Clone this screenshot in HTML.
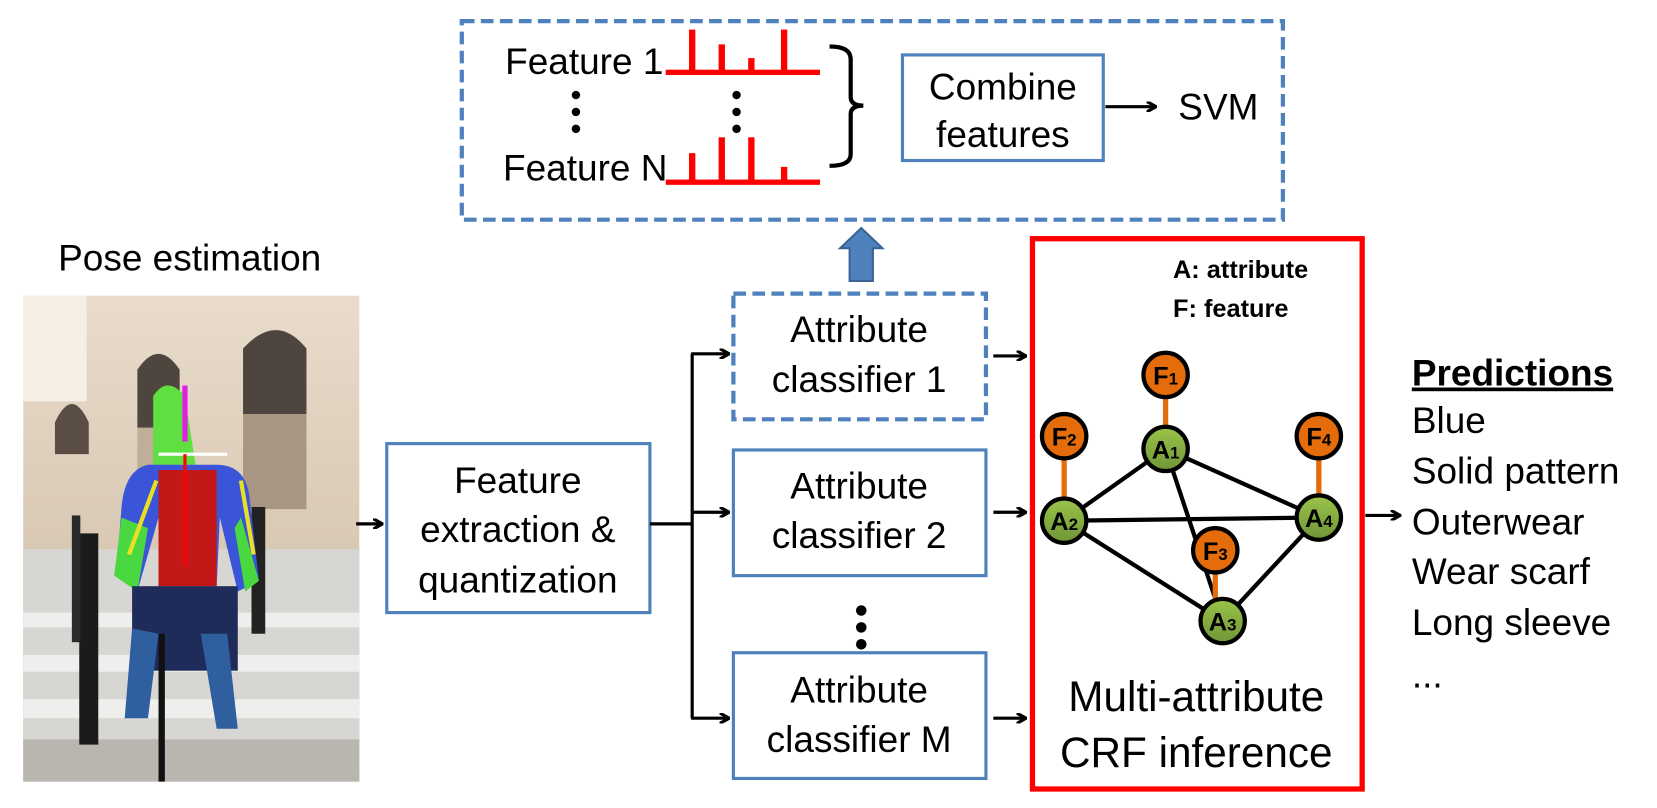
<!DOCTYPE html>
<html><head><meta charset="utf-8"><style>
body{margin:0;background:#fff;}
svg{display:block;}
text{font-family:"Liberation Sans",sans-serif;}
</style></head><body>
<svg width="1657" height="808" viewBox="0 0 1568 765" preserveAspectRatio="none" xmlns="http://www.w3.org/2000/svg">
<defs>
<marker id="ah" markerWidth="10" markerHeight="10" refX="8" refY="5" orient="auto" markerUnits="userSpaceOnUse">
<path d="M0,0 L9,5 L0,10" fill="none" stroke="#000" stroke-width="3"/>
</marker>
<linearGradient id="gn" x1="0" y1="0" x2="0" y2="1"><stop offset="0" stop-color="#9bc34a"/><stop offset="1" stop-color="#6f9636"/></linearGradient>
<linearGradient id="bld" x1="0" y1="0" x2="0" y2="1"><stop offset="0" stop-color="#e9dccb"/><stop offset="1" stop-color="#c9b79f"/></linearGradient>
</defs>

<rect x="437" y="20" width="777" height="188" fill="none" stroke="#4f81bd" stroke-width="4" stroke-dasharray="12,6"/>
<text x="478" y="70" font-size="35">Feature 1</text>
<text x="476" y="171" font-size="35">Feature N</text>
<g fill="#f00">
<rect x="630" y="66" width="146" height="5"/>
<rect x="652" y="28" width="6" height="40"/><rect x="680" y="42" width="6" height="26"/><rect x="708" y="55" width="6" height="13"/><rect x="739" y="28" width="6" height="40"/>
<rect x="630" y="170" width="146" height="5"/>
<rect x="652" y="145" width="6" height="27"/><rect x="680" y="130" width="6" height="42"/><rect x="708" y="130" width="6" height="42"/><rect x="739" y="158" width="6" height="14"/>
</g>
<g fill="#000">
<circle cx="545" cy="90" r="4"/><circle cx="545" cy="106" r="4"/><circle cx="545" cy="122" r="4"/>
<circle cx="697" cy="90" r="4"/><circle cx="697" cy="106" r="4"/><circle cx="697" cy="122" r="4"/>
</g>
<path d="M785,44 Q805,44 805,56 L805,92 Q805,100 817,100 Q805,100 805,108 L805,146 Q805,157 785,157" fill="none" stroke="#000" stroke-width="4"/>
<rect x="854" y="52" width="190" height="100" fill="none" stroke="#4f81bd" stroke-width="3"/>
<text x="949" y="94" font-size="35" text-anchor="middle">Combine</text>
<text x="949" y="139" font-size="35" text-anchor="middle">features</text>
<line x1="1046" y1="101" x2="1093" y2="101" stroke="#000" stroke-width="3" marker-end="url(#ah)"/>
<text x="1115" y="113" font-size="35">SVM</text>

<path d="M795,235 L815,216 L835,235 L826,235 L826,266 L804,266 L804,235 Z" fill="#4f81bd" stroke="#3a6496" stroke-width="2"/>

<text x="55" y="256" font-size="35">Pose estimation</text>
<g>
<rect x="22" y="280" width="318" height="460" fill="url(#bld)"/>
<rect x="22" y="280" width="60" height="100" fill="#f5efe6"/>
<path d="M52,400 Q68,365 84,400 L84,430 L52,430Z" fill="#5a4d45"/>
<path d="M130,350 Q150,320 170,350 L170,405 L130,405Z" fill="#4f453f"/>
<path d="M230,330 Q262,295 290,330 L290,392 L230,392Z" fill="#4f453f"/>
<rect x="130" y="405" width="40" height="80" fill="#bfae98"/>
<rect x="230" y="392" width="60" height="90" fill="#a99682"/>
<rect x="22" y="520" width="318" height="220" fill="#d8d6d2"/>
<g fill="#eeeeec"><rect x="22" y="580" width="318" height="14"/><rect x="22" y="620" width="318" height="16"/><rect x="22" y="662" width="318" height="18"/></g>
<rect x="22" y="700" width="318" height="40" fill="#b9b6b0"/>
<rect x="75" y="505" width="18" height="200" fill="#1b1b1b"/>
<rect x="238" y="480" width="13" height="120" fill="#222"/>
<rect x="68" y="488" width="8" height="120" fill="#2b2b2b"/>
<path d="M145,375 Q158,355 175,375 L185,440 L145,440Z" fill="#5fe040"/>
<path d="M140,440 Q118,445 115,480 L110,545 L130,560 L150,490 L150,555 L205,555 L208,490 L225,560 L245,550 L236,470 Q232,440 205,440Z" fill="#3b55d8"/>
<rect x="150" y="445" width="55" height="110" fill="#c41818"/>
<path d="M115,490 L108,545 L130,560 L140,500Z" fill="#4ad840"/>
<path d="M228,490 L245,550 L232,560 L222,500Z" fill="#4ad840"/>
<rect x="125" y="555" width="100" height="80" fill="#1f2c5a"/>
<path d="M125,595 L118,680 L140,680 L150,600Z M190,600 L205,690 L225,690 L215,600Z" fill="#2f5f9e"/>
<rect x="150" y="600" width="6" height="140" fill="#111"/>
<line x1="175" y1="365" x2="175" y2="418" stroke="#e020e0" stroke-width="5"/>
<line x1="150" y1="430" x2="215" y2="430" stroke="#fff" stroke-width="3"/>
<line x1="175" y1="430" x2="175" y2="535" stroke="#f00" stroke-width="3"/>
<line x1="148" y1="455" x2="122" y2="525" stroke="#e8e020" stroke-width="4"/>
<line x1="228" y1="455" x2="240" y2="525" stroke="#e8e020" stroke-width="4"/>
</g>

<line x1="337" y1="496" x2="361" y2="496" stroke="#000" stroke-width="3" marker-end="url(#ah)"/>
<rect x="366" y="420" width="249" height="160" fill="none" stroke="#4f81bd" stroke-width="3"/>
<text x="490" y="467" font-size="35" text-anchor="middle">Feature</text>
<text x="490" y="513" font-size="35" text-anchor="middle">extraction &amp;</text>
<text x="490" y="561" font-size="35" text-anchor="middle">quantization</text>
<line x1="615" y1="496" x2="655" y2="496" stroke="#000" stroke-width="3"/>
<line x1="655" y1="335" x2="655" y2="680" stroke="#000" stroke-width="3"/>
<line x1="654" y1="335" x2="689" y2="335" stroke="#000" stroke-width="3" marker-end="url(#ah)"/>
<line x1="654" y1="485" x2="689" y2="485" stroke="#000" stroke-width="3" marker-end="url(#ah)"/>
<line x1="654" y1="680" x2="689" y2="680" stroke="#000" stroke-width="3" marker-end="url(#ah)"/>

<rect x="694" y="278" width="239" height="119" fill="none" stroke="#4f81bd" stroke-width="4" stroke-dasharray="12,6"/>
<text x="813" y="324" font-size="35" text-anchor="middle">Attribute</text>
<text x="813" y="371" font-size="35" text-anchor="middle">classifier 1</text>
<rect x="694" y="426" width="239" height="119" fill="none" stroke="#4f81bd" stroke-width="3"/>
<text x="813" y="472" font-size="35" text-anchor="middle">Attribute</text>
<text x="813" y="519" font-size="35" text-anchor="middle">classifier 2</text>
<g fill="#000"><circle cx="815" cy="578" r="5"/><circle cx="815" cy="594" r="5"/><circle cx="815" cy="610" r="5"/></g>
<rect x="694" y="618" width="239" height="119" fill="none" stroke="#4f81bd" stroke-width="3"/>
<text x="813" y="665" font-size="35" text-anchor="middle">Attribute</text>
<text x="813" y="712" font-size="35" text-anchor="middle">classifier M</text>

<line x1="940" y1="337" x2="970" y2="337" stroke="#000" stroke-width="3" marker-end="url(#ah)"/>
<line x1="940" y1="485" x2="970" y2="485" stroke="#000" stroke-width="3" marker-end="url(#ah)"/>
<line x1="940" y1="680" x2="970" y2="680" stroke="#000" stroke-width="3" marker-end="url(#ah)"/>

<rect x="977" y="226" width="312" height="521" fill="none" stroke="#f00" stroke-width="5"/>
<text x="1110" y="263" font-size="24" font-weight="bold">A: attribute</text>
<text x="1110" y="300" font-size="24" font-weight="bold">F: feature</text>
<g stroke="#000" stroke-width="4">
<line x1="1103" y1="425" x2="1007" y2="493"/><line x1="1103" y1="425" x2="1248" y2="490"/>
<line x1="1103" y1="425" x2="1157" y2="588"/><line x1="1007" y1="493" x2="1248" y2="490"/>
<line x1="1007" y1="493" x2="1157" y2="588"/><line x1="1248" y1="490" x2="1157" y2="588"/>
</g>
<g stroke="#e46c0a" stroke-width="5">
<line x1="1103" y1="355" x2="1103" y2="425"/><line x1="1007" y1="413" x2="1007" y2="493"/>
<line x1="1248" y1="413" x2="1248" y2="490"/><line x1="1150" y1="520" x2="1150" y2="588"/>
</g>
<g stroke="#000" stroke-width="4">
<circle cx="1103" cy="355" r="21" fill="#e46c0a"/><circle cx="1007" cy="413" r="21" fill="#e46c0a"/>
<circle cx="1248" cy="413" r="21" fill="#e46c0a"/><circle cx="1150" cy="521" r="21" fill="#e46c0a"/>
<circle cx="1103" cy="425" r="21" fill="url(#gn)"/><circle cx="1007" cy="493" r="21" fill="url(#gn)"/>
<circle cx="1248" cy="490" r="21" fill="url(#gn)"/><circle cx="1157" cy="588" r="21" fill="url(#gn)"/>
</g>
<g font-weight="bold" font-size="24" text-anchor="middle" fill="#000">
<text x="1103" y="364">F<tspan font-size="16">1</tspan></text>
<text x="1007" y="422">F<tspan font-size="16">2</tspan></text>
<text x="1248" y="422">F<tspan font-size="16">4</tspan></text>
<text x="1150" y="530">F<tspan font-size="16">3</tspan></text>
<text x="1103" y="434">A<tspan font-size="16">1</tspan></text>
<text x="1007" y="502">A<tspan font-size="16">2</tspan></text>
<text x="1248" y="499">A<tspan font-size="16">4</tspan></text>
<text x="1157" y="597">A<tspan font-size="16">3</tspan></text>
</g>
<text x="1132" y="673" font-size="40" text-anchor="middle">Multi-attribute</text>
<text x="1132" y="726" font-size="40" text-anchor="middle">CRF inference</text>

<line x1="1292" y1="488" x2="1324" y2="488" stroke="#000" stroke-width="3" marker-end="url(#ah)"/>
<text x="1336" y="365" font-size="35" font-weight="bold" text-decoration="underline">Predictions</text>
<g font-size="35">
<text x="1336" y="410">Blue</text>
<text x="1336" y="458">Solid pattern</text>
<text x="1336" y="506">Outerwear</text>
<text x="1336" y="553">Wear scarf</text>
<text x="1336" y="601">Long sleeve</text>
<text x="1336" y="651">...</text>
</g>
</svg>
</body></html>
